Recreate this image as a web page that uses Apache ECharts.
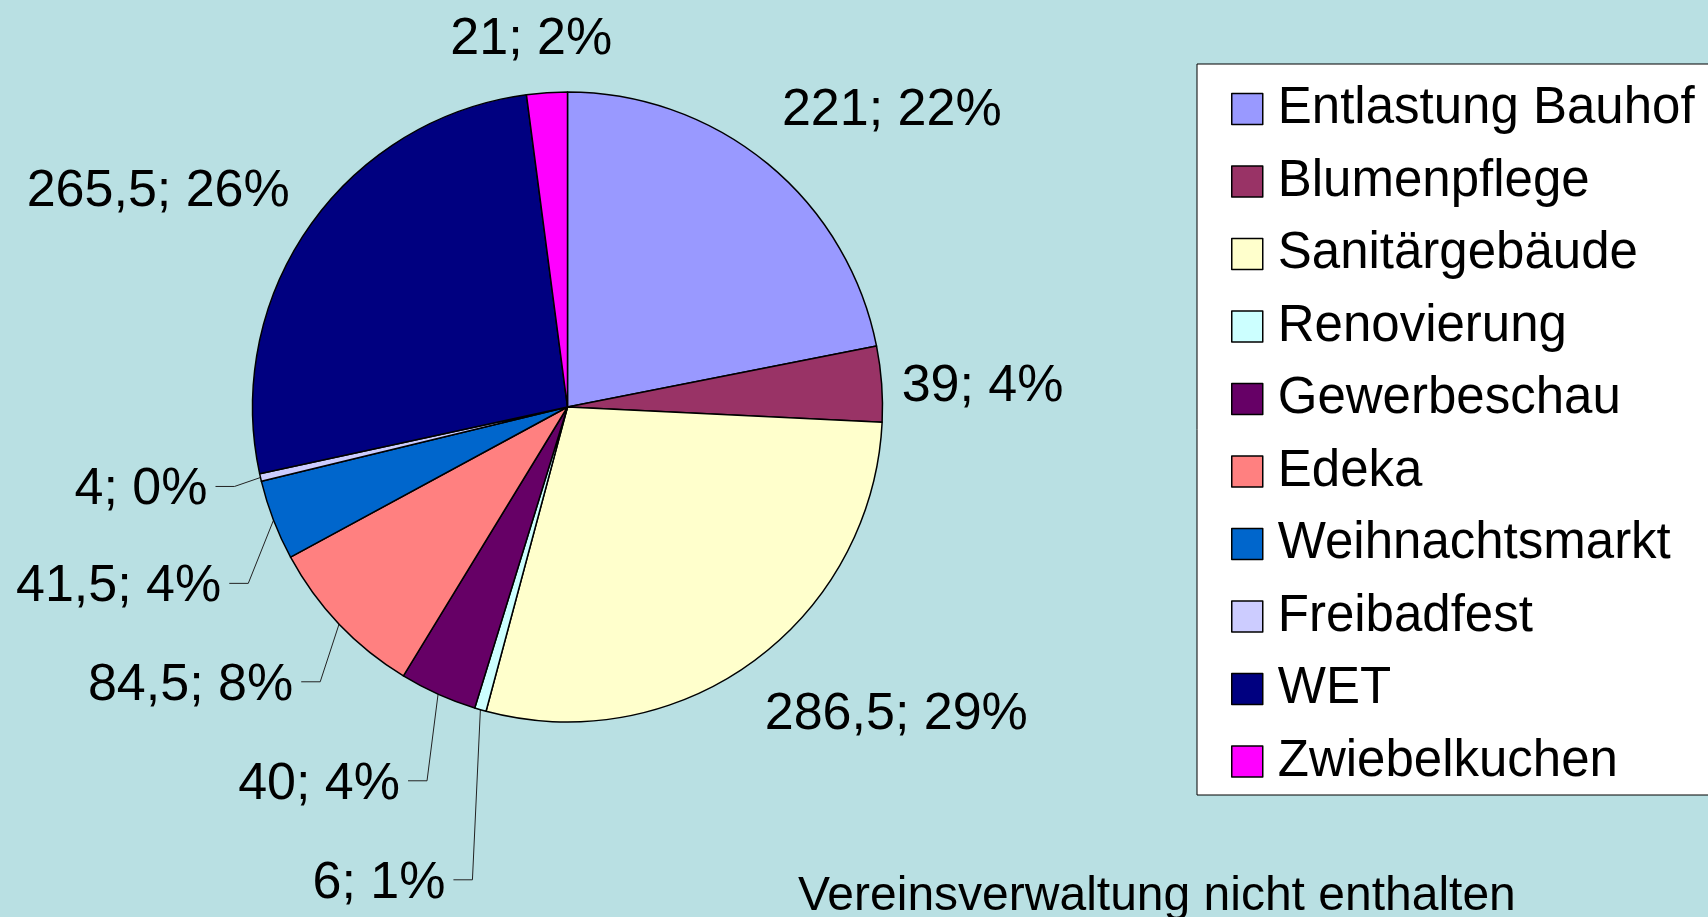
<!DOCTYPE html>
<html>
<head>
<meta charset="utf-8">
<title>Vereinsverwaltung</title>
<script src="https://cdnjs.cloudflare.com/ajax/libs/echarts/6.0.0/echarts.min.js"></script>
<style>
  html, body { margin: 0; padding: 0; background: #b9e0e3; }
</style>
</head>
<body>
<script>
// values
const categories = [
  "Entlastung Bauhof", "Blumenpflege", "Sanitärgebäude", "Renovierung",
  "Gewerbeschau", "Edeka", "Weihnachtsmarkt", "Freibadfest", "WET", "Zwiebelkuchen"
];
const hours = [221, 39, 286.5, 6, 40, 84.5, 41.5, 4, 265.5, 21];
// percent labels as printed in the chart
const percents = [22, 4, 29, 1, 4, 8, 4, 0, 26, 2];
const note = "Vereinsverwaltung nicht enthalten";

// excel-ish palette
const colors = ["#9999ff", "#993366", "#ffffcc", "#ccffff", "#660066",
  "#ff8080", "#0066cc", "#ccccff", "#000080", "#ff00ff"];

// label line tuning (length, length2, show)
const lineLen = [73, 10, 62, 177, 95, 84, 176, 40, 65, 57];
const lineLen2 = [-40, 2, -33, -22, -9, -23, -120, 6, -41, -77];
const lineShown = [false, false, false, true, true, true, true, true, false, false];

const FONT = "'Liberation Sans', Arial, sans-serif";

function fmtNum(v) {
  return String(v).replace(".", ",");
}

function createTargetDom() {
  let targetDom = document.createElement("div");
  targetDom.setAttribute("id", "targetElement");
  targetDom.setAttribute("style", "width: 1708px;height:917px;");
  document.body.appendChild(targetDom);
  return targetDom;
}

function renderChart(dom) {
  let chart = echarts.init(dom);

  let pieData = categories.map((name, i) => ({
    name: name,
    value: hours[i],
    itemStyle: { color: colors[i] },
    labelLine: { show: lineShown[i], length: lineLen[i], length2: lineLen2[i] }
  }));

  chart.setOption({
    backgroundColor: "#b9e0e3",
    animation: false,
    title: {
      text: note,
      left: 798,
      top: 873,
      padding: 0,
      textStyle: { fontFamily: FONT, fontSize: 48, fontWeight: "normal", color: "#000" }
    },
    legend: {
      orient: "vertical",
      left: 1197,
      top: 64,
      padding: [19.5, 60, 8, 34],
      backgroundColor: "#fff",
      borderColor: "#000",
      borderWidth: 1,
      borderRadius: 0,
      itemWidth: 31,
      itemHeight: 31,
      itemGap: 21.5,
      icon: "rect",
      selectedMode: false,
      itemStyle: { borderColor: "#000", borderWidth: 1.5 },
      textStyle: {
        fontFamily: FONT, fontSize: 51, lineHeight: 51, color: "#000",
        padding: [0, 0, 0, 10]
      },
      data: categories
    },
    series: [{
      type: "pie",
      center: [567.5, 407],
      radius: 315,
      startAngle: 90,
      clockwise: true,
      avoidLabelOverlap: false,
      itemStyle: { borderColor: "#000", borderWidth: 1.5 },
      emphasis: { disabled: true },
      label: {
        show: true,
        position: "outside",
        distanceToLabelLine: 8,
        fontFamily: FONT,
        fontSize: 52,
        color: "#000",
        formatter: (p) => fmtNum(p.value) + "; " + percents[p.dataIndex] + "%"
      },
      labelLine: {
        lineStyle: { color: "#222", width: 1 }
      },
      // excel style leader: straight to a short horizontal tail
      labelLayout: function (params) {
        let pts = params.labelLinePoints;
        if (!pts || !lineShown[params.dataIndex]) return { dy: 3.5 };
        let p0 = pts[0], p2 = pts[2];
        let dir = p2[0] < p0[0] ? 1 : -1;
        return { dy: 3.5, labelLinePoints: [p0, [p2[0] + dir * 19, p2[1]], p2] };
      },
      data: pieData
    }]
  });
  return chart;
}

renderChart(createTargetDom());
</script>
</body>
</html>
